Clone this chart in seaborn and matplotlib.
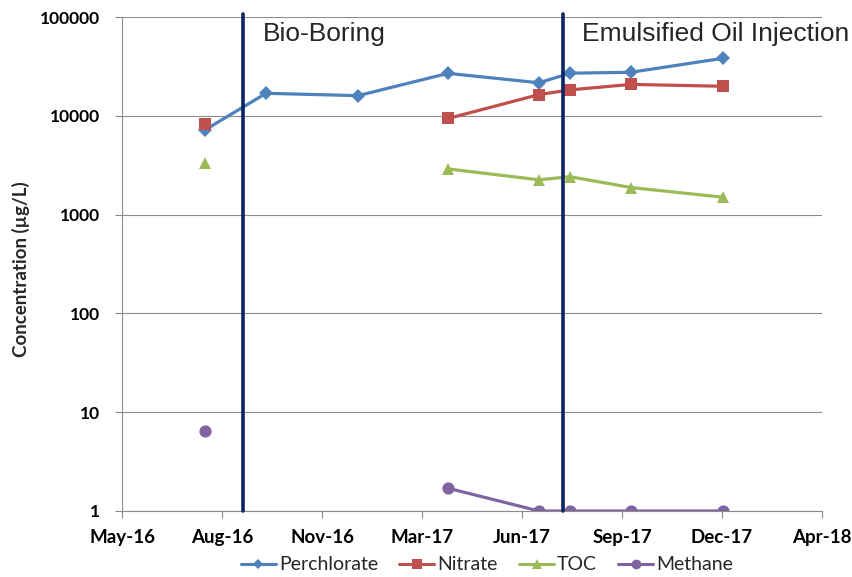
import numpy as np
import pandas as pd
import matplotlib
matplotlib.use('Agg')
import matplotlib.pyplot as plt
import matplotlib.dates as mdates
from matplotlib.lines import Line2D
from matplotlib.ticker import NullLocator
import seaborn as sns

# 数据
dates = ['2016-08-01', '2016-10-01', '2017-01-01', '2017-04-01',
         '2017-07-01', '2017-08-01', '2017-10-01', '2018-01-01']
perchlorate = [7200, 16900, 16000, 26900, 21600, 27000, 27600, 38200]
nitrate = [8300, np.nan, np.nan, 9400, 16400, 18300, 20800, 19900]
toc = [3300, np.nan, np.nan, 2900, 2250, 2420, 1880, 1500]
methane = [6.5, np.nan, np.nan, 1.7, 1, 1, 1, 1]

series_names = ['Perchlorate', 'Nitrate', 'TOC', 'Methane']
series_values = [perchlorate, nitrate, toc, methane]
colors = ['#4F81BD', '#C0504D', '#9BBB59', '#8064A2']
markers = ['D', 's', '^', 'o']
marker_sizes = [7, 8.5, 9, 8.8]

event_dates = ['2016-09-08', '2017-07-25']
event_labels = ['Bio-Boring', 'Emulsified Oil Injection']

x_start = '2016-05-10'
x_end = '2018-04-10'
xtick_labels = ['May-16', 'Aug-16', 'Nov-16', 'Mar-17', 'Jun-17', 'Sep-17', 'Dec-17', 'Apr-18']
yticks = [1, 10, 100, 1000, 10000, 100000]
ytick_labels = ['1', '10', '100', '1000', '10000', '100000']

sns.set_style('white')
plt.rcParams['font.family'] = ['Lato', 'DejaVu Sans']

fig = plt.figure(figsize=(8.52, 5.77), dpi=100)
ax = fig.add_axes([0.1432, 0.1144, 0.8216, 0.8561])
ax.set_yscale('log')

# 画各条曲线，缺失值处断开
for name, vals, c, m, ms in zip(series_names, series_values, colors, markers, marker_sizes):
    d = pd.DataFrame({'date': pd.to_datetime(dates), 'value': vals})
    d['seg'] = d['value'].isna().cumsum()
    d = d.dropna()
    sns.lineplot(data=d, x='date', y='value', units='seg', estimator=None,
                 color=c, marker=m, markersize=ms, markeredgewidth=0,
                 linewidth=2.3, ax=ax, legend=False)

# 事件竖线与文字
for ed, lab in zip(event_dates, event_labels):
    xd = mdates.date2num(pd.Timestamp(ed))
    ax.axvline(xd, ymin=0, ymax=1.006, color='#0a2463', lw=2.6, clip_on=False, zorder=5)
    ax.annotate(lab, xy=(xd, 1), xycoords=('data', 'axes fraction'),
                xytext=(14, -17), textcoords='offset points', va='baseline',
                fontsize=19, family=['Liberation Sans', 'DejaVu Sans'])

# 坐标轴
xticks = pd.date_range(x_start, periods=len(xtick_labels), freq='100D')
ax.set_xlim(pd.Timestamp(x_start), pd.Timestamp(x_end))
ax.set_xticks(xticks)
ax.set_xticklabels(xtick_labels, fontsize=13.5, fontweight='bold')
ax.set_ylim(1, 100000)
ax.set_yticks(yticks)
ax.set_yticklabels(ytick_labels, fontsize=12.5, fontweight='bold')
ax.yaxis.set_minor_locator(NullLocator())
ax.set_xlabel('')
ax.set_ylabel('Concentration (µg/L)', fontsize=13.5, fontweight='bold')
ax.yaxis.set_label_coords(-0.131, 0.49)

ax.yaxis.grid(True, color='#8c8c8c', linewidth=0.8)
ax.xaxis.grid(False)
ax.set_axisbelow(True)
for s in ['top', 'right']:
    ax.spines[s].set_visible(False)
for s in ['left', 'bottom']:
    ax.spines[s].set_color('#8c8c8c')
    ax.spines[s].set_linewidth(0.8)
ax.tick_params(axis='both', which='major', direction='out', length=5, width=0.8,
               color='#8c8c8c', bottom=True, left=True, labelcolor='black')
ax.tick_params(axis='x', pad=8)
ax.tick_params(axis='y', pad=11)

# 图例
handles = [Line2D([], [], color=c, marker=m, markersize=ms * 0.8, markeredgewidth=0, lw=2.2)
           for c, m, ms in zip(colors, markers, marker_sizes)]
fig.legend(handles, series_names, loc='center', bbox_to_anchor=(487 / 852, 1 - 565 / 577),
           ncol=4, frameon=False, fontsize=14, handlelength=1.8, handletextpad=0.15,
           columnspacing=1.1)

fig.savefig('out.png', dpi=100)
